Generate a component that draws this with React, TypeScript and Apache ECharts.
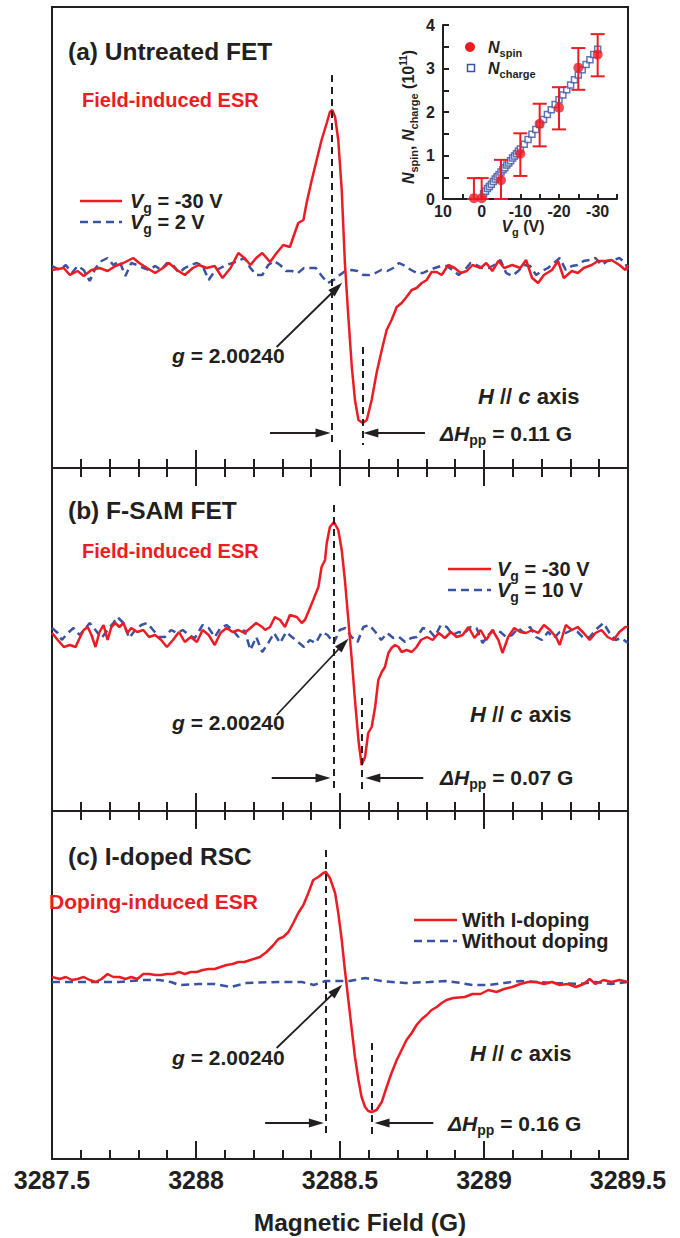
import React, { useEffect, useRef } from "react";
import * as echarts from "echarts";

const RED = "#ed1c24";
const BLUE = "#3953a4";
const INK = "#231f20";
const FONT = '"Liberation Sans", Arial, sans-serif';

const FIELD_MIN = 3287.5;
const FIELD_MAX = 3289.5;

// ---------- Panel (a): Untreated FET (signal, arbitrary units) ----------
const aRed: [number, number][] = [
  [3287.5, -2], [3287.541, 0], [3287.562, -7], [3287.589, -3], [3287.61, -8], [3287.637, -2], [3287.665, 0], [3287.693, -3],
  [3287.72, 2], [3287.748, 5], [3287.782, 10], [3287.803, 5], [3287.83, 0], [3287.858, -5], [3287.885, 0], [3287.906, 5],
  [3287.934, -2], [3287.961, -7], [3287.989, 0], [3288.01, 3], [3288.037, 0], [3288.065, 2], [3288.092, -10], [3288.12, 0],
  [3288.147, 15], [3288.168, 10], [3288.189, 3], [3288.209, 10], [3288.23, 15], [3288.257, 6], [3288.28, 15], [3288.303, 23],
  [3288.326, 21], [3288.338, 31], [3288.355, 45], [3288.373, 48], [3288.384, 65], [3288.402, 88], [3288.419, 108], [3288.436, 128],
  [3288.454, 145], [3288.465, 156], [3288.473, 158], [3288.483, 151], [3288.494, 128], [3288.506, 78], [3288.517, 5], [3288.529, -49],
  [3288.541, -99], [3288.552, -132], [3288.564, -152], [3288.579, -155], [3288.593, -152], [3288.61, -132], [3288.627, -105], [3288.645, -82],
  [3288.662, -62], [3288.679, -52], [3288.697, -39], [3288.714, -35], [3288.731, -29], [3288.749, -22], [3288.766, -20], [3288.784, -15],
  [3288.801, -12], [3288.818, -4], [3288.836, -4], [3288.853, -7], [3288.876, 3], [3288.898, 0], [3288.919, -5], [3288.94, -3],
  [3288.96, 3], [3288.988, 0], [3289.008, 5], [3289.029, -3], [3289.05, 7], [3289.07, 0], [3289.098, 3], [3289.126, 0],
  [3289.146, 8], [3289.167, -10], [3289.188, -15], [3289.208, -7], [3289.236, -2], [3289.257, 7], [3289.277, -10], [3289.305, -3],
  [3289.326, -5], [3289.346, 0], [3289.374, 3], [3289.395, 7], [3289.422, 7], [3289.443, 8], [3289.47, 3], [3289.491, -2], [3289.5, 3],
];
const aBlue: [number, number][] = [
  [3287.5, 2], [3287.527, -2], [3287.548, 3], [3287.569, -5], [3287.589, 2], [3287.61, -2], [3287.631, -13], [3287.651, 0],
  [3287.672, 7], [3287.693, 10], [3287.713, 3], [3287.734, 7], [3287.755, -8], [3287.775, 5], [3287.796, 3], [3287.817, 0],
  [3287.837, -2], [3287.858, 2], [3287.879, -2], [3287.899, 5], [3287.92, 3], [3287.941, -5], [3287.961, 0], [3287.982, 3],
  [3288.003, 5], [3288.023, 2], [3288.044, -12], [3288.065, -3], [3288.085, 0], [3288.106, 3], [3288.127, 5], [3288.147, 7],
  [3288.168, 10], [3288.189, 0], [3288.209, -7], [3288.23, -7], [3288.251, 3], [3288.271, 7], [3288.292, 3], [3288.313, -3],
  [3288.333, -3], [3288.354, -5], [3288.375, 0], [3288.395, 0], [3288.416, 0], [3288.437, -8], [3288.457, -15], [3288.478, -12],
  [3288.499, -7], [3288.519, -3], [3288.54, -2], [3288.561, -3], [3288.581, -7], [3288.602, -7], [3288.623, -5], [3288.643, -2],
  [3288.664, -3], [3288.685, 0], [3288.705, 5], [3288.726, 2], [3288.747, -2], [3288.767, -5], [3288.788, -5], [3288.809, -2],
  [3288.829, 0], [3288.85, 2], [3288.871, 2], [3288.891, -2], [3288.912, -7], [3288.933, -2], [3288.953, 5], [3288.974, 3],
  [3288.995, 0], [3289.015, 0], [3289.036, 3], [3289.057, 8], [3289.077, -5], [3289.098, -8], [3289.119, -3], [3289.139, 3],
  [3289.16, 2], [3289.181, -7], [3289.201, -3], [3289.222, 0], [3289.243, 5], [3289.263, 10], [3289.284, -2], [3289.305, 2],
  [3289.325, 3], [3289.346, 7], [3289.367, 8], [3289.387, 10], [3289.408, 3], [3289.429, 7], [3289.45, 8], [3289.47, 10],
  [3289.491, 5], [3289.5, -2],
];

// ---------- Panel (b): F-SAM FET ----------
const bRed: [number, number][] = [
  [3287.5, 2], [3287.52, -5], [3287.541, -12], [3287.562, -10], [3287.582, -12], [3287.596, -3], [3287.61, 5], [3287.624, 8],
  [3287.637, 0], [3287.651, -12], [3287.665, 3], [3287.679, 10], [3287.693, -5], [3287.706, 8], [3287.72, 12], [3287.734, 8],
  [3287.748, 12], [3287.762, 2], [3287.775, 7], [3287.796, 3], [3287.817, 5], [3287.837, -2], [3287.858, 0], [3287.879, -5],
  [3287.899, -12], [3287.92, -5], [3287.941, 3], [3287.961, -7], [3287.982, -2], [3288.003, -7], [3288.023, 5], [3288.044, 0],
  [3288.065, -10], [3288.085, 2], [3288.106, 7], [3288.127, 3], [3288.147, 5], [3288.168, 2], [3288.189, 7], [3288.209, 12],
  [3288.23, 8], [3288.24, 5], [3288.257, 8], [3288.274, 18], [3288.292, 15], [3288.309, 8], [3288.326, 20], [3288.35, 18],
  [3288.367, 12], [3288.378, 15], [3288.39, 23], [3288.407, 35], [3288.425, 48], [3288.436, 68], [3288.448, 75], [3288.454, 92],
  [3288.465, 108], [3288.479, 113], [3288.494, 105], [3288.506, 85], [3288.517, 55], [3288.529, 15], [3288.541, -25], [3288.552, -65],
  [3288.564, -105], [3288.575, -130], [3288.587, -122], [3288.598, -98], [3288.61, -92], [3288.622, -72], [3288.633, -45], [3288.645, -37],
  [3288.656, -32], [3288.668, -18], [3288.679, -13], [3288.691, -10], [3288.703, -12], [3288.714, -17], [3288.731, -15], [3288.749, -17],
  [3288.766, -12], [3288.781, -5], [3288.802, -2], [3288.822, -5], [3288.843, 2], [3288.864, -3], [3288.885, 3], [3288.905, -2],
  [3288.926, 0], [3288.946, 8], [3288.967, -3], [3288.988, 5], [3289.008, -5], [3289.029, 5], [3289.05, -5], [3289.064, -18],
  [3289.084, -2], [3289.105, 7], [3289.126, 3], [3289.146, 2], [3289.167, 5], [3289.188, 2], [3289.208, 10], [3289.229, 5],
  [3289.25, -2], [3289.263, -10], [3289.284, 10], [3289.305, 5], [3289.325, 8], [3289.346, 2], [3289.367, -5], [3289.387, 2],
  [3289.408, 5], [3289.429, -2], [3289.45, -5], [3289.47, 3], [3289.491, 8], [3289.5, 8],
];
const bBlue: [number, number][] = [
  [3287.5, 7], [3287.52, 2], [3287.534, -5], [3287.555, 2], [3287.575, 7], [3287.596, 0], [3287.617, 7], [3287.631, 12],
  [3287.651, 5], [3287.672, -3], [3287.693, 5], [3287.713, 12], [3287.727, 18], [3287.748, 12], [3287.768, -3], [3287.789, 5],
  [3287.81, 10], [3287.83, 12], [3287.851, 5], [3287.872, -2], [3287.892, -2], [3287.913, 5], [3287.934, 2], [3287.954, 5],
  [3287.975, 0], [3287.996, -3], [3288.023, 10], [3288.044, 7], [3288.065, -2], [3288.085, 7], [3288.106, 10], [3288.127, 5],
  [3288.147, -2], [3288.168, 5], [3288.189, -15], [3288.209, -2], [3288.23, -17], [3288.251, -8], [3288.271, 2], [3288.292, -8],
  [3288.313, 3], [3288.333, -2], [3288.354, -7], [3288.375, -12], [3288.395, -5], [3288.416, -8], [3288.437, 3], [3288.457, 0],
  [3288.478, -8], [3288.499, 5], [3288.519, 7], [3288.54, -2], [3288.561, -7], [3288.581, 8], [3288.602, 10], [3288.623, 3],
  [3288.643, -5], [3288.664, 2], [3288.685, -3], [3288.705, -2], [3288.726, -7], [3288.747, -3], [3288.767, -2], [3288.788, 7],
  [3288.809, 5], [3288.829, -2], [3288.85, 10], [3288.871, 8], [3288.891, 0], [3288.912, 3], [3288.933, 2], [3288.953, 8],
  [3288.974, 7], [3288.995, -8], [3289.015, 0], [3289.036, 5], [3289.057, 3], [3289.077, -2], [3289.098, 0], [3289.119, 7],
  [3289.139, 2], [3289.16, 8], [3289.181, -2], [3289.201, -5], [3289.222, 3], [3289.243, -3], [3289.263, 3], [3289.284, 2],
  [3289.305, 5], [3289.325, 3], [3289.346, -3], [3289.367, -2], [3289.387, 5], [3289.415, 12], [3289.436, 2], [3289.457, -5],
  [3289.477, -3], [3289.5, -8],
];

// ---------- Panel (c): I-doped RSC ----------
const cRed: [number, number][] = [
  [3287.5, 5], [3287.527, 3], [3287.548, 5], [3287.569, 2], [3287.589, 3], [3287.61, 5], [3287.631, 2], [3287.651, 0],
  [3287.672, 3], [3287.693, 8], [3287.713, 5], [3287.734, 5], [3287.755, 3], [3287.775, 5], [3287.796, 3], [3287.817, 8],
  [3287.837, 8], [3287.858, 7], [3287.879, 7], [3287.899, 8], [3287.92, 8], [3287.941, 10], [3287.961, 8], [3287.982, 10],
  [3288.003, 10], [3288.023, 12], [3288.044, 13], [3288.065, 13], [3288.085, 15], [3288.106, 17], [3288.127, 18], [3288.147, 20],
  [3288.168, 20], [3288.189, 22], [3288.222, 25], [3288.245, 30], [3288.269, 37], [3288.286, 43], [3288.303, 45], [3288.321, 50],
  [3288.338, 59], [3288.355, 69], [3288.373, 77], [3288.39, 89], [3288.407, 102], [3288.425, 105], [3288.442, 109], [3288.451, 110],
  [3288.465, 104], [3288.483, 89], [3288.494, 69], [3288.506, 42], [3288.517, 12], [3288.529, -18], [3288.541, -48], [3288.552, -75],
  [3288.564, -98], [3288.575, -115], [3288.587, -125], [3288.598, -129], [3288.61, -130], [3288.627, -128], [3288.645, -120], [3288.662, -105],
  [3288.679, -91], [3288.697, -78], [3288.714, -68], [3288.731, -58], [3288.749, -51], [3288.766, -43], [3288.784, -37], [3288.801, -33],
  [3288.818, -28], [3288.836, -25], [3288.853, -21], [3288.87, -18], [3288.893, -16], [3288.933, -15], [3288.96, -12], [3288.988, -12],
  [3289.015, -8], [3289.043, -10], [3289.07, -7], [3289.098, -5], [3289.126, -2], [3289.153, 0], [3289.181, 0], [3289.208, -2],
  [3289.236, 0], [3289.263, -3], [3289.291, -2], [3289.319, -5], [3289.346, -2], [3289.367, 3], [3289.387, -2], [3289.415, 2],
  [3289.443, 0], [3289.47, 2], [3289.5, 0],
];
const cBlue: [number, number][] = [
  [3287.5, 0], [3287.596, 0], [3287.734, 0], [3287.817, 2], [3287.872, 2], [3287.913, 0], [3287.941, -3], [3288.01, -2],
  [3288.065, -2], [3288.12, -5], [3288.175, -1], [3288.285, 0], [3288.368, 0], [3288.409, -3], [3288.45, 1], [3288.533, 1],
  [3288.588, 4], [3288.643, 1], [3288.726, -1], [3288.809, 0], [3288.864, 1], [3288.919, -1], [3288.96, -3], [3289.015, -3],
  [3289.07, -1], [3289.126, 1], [3289.181, 0], [3289.25, -1], [3289.332, -2], [3289.387, 0], [3289.443, -2], [3289.5, 0],
];

// ---------- Inset: N_spin and N_charge vs V_g ----------
const spinVg = [2, 0, -5, -10, -15, -20, -25, -30];
const spinN = [0.02, 0.02, 0.43, 1.04, 1.73, 2.1, 3.02, 3.32];
const spinLo = [0, 0, 0, 0.53, 1.21, 1.6, 2.51, 2.82];
const spinHi = [0.48, 0.48, 0.9, 1.51, 2.19, 2.57, 3.47, 3.79];
const chargeVg = [
  -0.5, -1, -1.5, -2, -2.5, -3, -3.5, -4, -4.5, -5, -5.5, -6, -6.5, -7, -7.5, -8, -8.5, -9, -9.5, -10,
  -11, -12, -13, -14, -15, -16, -17, -18, -19, -20, -21, -22, -23, -24, -25, -26, -27, -28, -29, -30,
];
const chargeN = [
  0.12, 0.18, 0.24, 0.29, 0.34, 0.4, 0.46, 0.51, 0.56, 0.62, 0.67, 0.72, 0.78, 0.83, 0.88, 0.94, 0.99, 1.04, 1.1, 1.15,
  1.26, 1.37, 1.49, 1.6, 1.71, 1.83, 1.94, 2.05, 2.17, 2.28, 2.39, 2.51, 2.62, 2.74, 2.85, 2.97, 3.09, 3.2, 3.32, 3.44,
];

// ---------- annotation anchors (field, signal) ----------
const PANEL_MARKS = [
  { dash1: [3288.472, 193, -177], dash2: [3288.58, -79, -177], arrowY: -165, arrL: [3288.257, 3288.441], arrR: [3288.795, 3288.607], diag: [3288.28, -79, 3288.489, -20] },
  { dash1: [3288.479, 130, -155], dash2: [3288.575, -63, -155], arrowY: -143, arrL: [3288.263, 3288.441], arrR: [3288.789, 3288.614], diag: [3288.28, -80, 3288.512, -9] },
  { dash1: [3288.451, 132, -153], dash2: [3288.61, -61, -153], arrowY: -141, arrL: [3288.24, 3288.418], arrR: [3288.824, 3288.646], diag: [3288.28, -66, 3288.489, -8] },
];

// layout (pixels)
const PANELS = [
  { top: 7, bottom: 468, base: 268 },
  { top: 468, bottom: 811, base: 635 },
  { top: 811, bottom: 1159, base: 982 },
];

let _ctx: CanvasRenderingContext2D | null = null;
function measure(t: string, size: number, bold: boolean, italic: boolean) {
  if (!_ctx) _ctx = document.createElement("canvas").getContext("2d");
  if (!_ctx) return t.length * size * 0.55;
  _ctx.font = `${italic ? "italic " : ""}${bold ? "bold " : ""}${size}px ${FONT}`;
  return _ctx.measureText(t).width;
}

type Part = { t: string; s?: number; b?: boolean; i?: boolean; d?: number; c?: string };
function rich(x: number, y: number, parts: Part[], o: { size: number; color?: string; align?: string; rotation?: number }) {
  const ps = parts.map((p) => ({ s: o.size, b: true, i: false, d: 0, ...p }));
  const widths = ps.map((p) => measure(p.t, p.s, p.b, p.i));
  const total = widths.reduce((a, b) => a + b, 0);
  let cx = o.align === "center" ? -total / 2 : o.align === "right" ? -total : 0;
  const children = ps.map((p, k) => {
    const el = {
      type: "text",
      x: cx,
      y: 0.35 * o.size + p.d - 0.35 * p.s,
      silent: true,
      style: {
        text: p.t,
        fill: p.c || o.color || INK,
        fontSize: p.s,
        fontWeight: p.b ? "bold" : "normal",
        fontStyle: p.i ? "italic" : "normal",
        fontFamily: FONT,
        align: "left",
        verticalAlign: "middle",
      },
    };
    cx += widths[k];
    return el;
  });
  return { type: "group", x, y, rotation: o.rotation || 0, children };
}

function fieldAxis(gridIndex: number, position: string, withLabels: boolean) {
  return {
    type: "value",
    gridIndex,
    position,
    min: FIELD_MIN,
    max: FIELD_MAX,
    interval: 0.5,
    axisLine: { show: true, onZero: false, lineStyle: { color: INK, width: 2 } },
    axisTick: { show: true, inside: true, length: 18, lineStyle: { color: INK, width: 2 } },
    minorTick: { show: true, splitNumber: 5, length: 9, lineStyle: { color: INK, width: 2 } },
    splitLine: { show: false },
    minorSplitLine: { show: false },
    axisLabel: withLabels
      ? {
          show: true,
          margin: 8,
          fontSize: 25,
          fontWeight: "bold",
          fontFamily: FONT,
          color: INK,
          showMinLabel: true,
          showMaxLabel: true,
          formatter: (v: number) => String(Number(v.toFixed(1))),
        }
      : { show: false },
  };
}

function marksFor(i: number) {
  const m = PANEL_MARKS[i];
  const dash = { color: INK, width: 2, type: [7, 5] };
  const solid = { color: INK, width: 1.8, type: "solid" };
  return {
    silent: true,
    animation: false,
    label: { show: false },
    symbolSize: [9, 15],
    data: [
      [{ coord: [m.dash1[0], m.dash1[1]], symbol: "none", lineStyle: dash }, { coord: [m.dash1[0], m.dash1[2]], symbol: "none" }],
      [{ coord: [m.dash2[0], m.dash2[1]], symbol: "none", lineStyle: dash }, { coord: [m.dash2[0], m.dash2[2]], symbol: "none" }],
      [{ coord: [m.arrL[0], m.arrowY], symbol: "none", lineStyle: solid }, { coord: [m.arrL[1], m.arrowY], symbol: "triangle" }],
      [{ coord: [m.arrR[0], m.arrowY], symbol: "none", lineStyle: solid }, { coord: [m.arrR[1], m.arrowY], symbol: "triangle" }],
      [{ coord: [m.diag[0], m.diag[1]], symbol: "none", lineStyle: solid }, { coord: [m.diag[2], m.diag[3]], symbol: "triangle" }],
    ],
    itemStyle: { color: INK },
  };
}

export default function App() {
  const ref = useRef<HTMLDivElement>(null);
  useEffect(() => {
    if (!ref.current) return;
    const chart = echarts.init(ref.current, undefined, { renderer: "svg" });

    const grids: any[] = PANELS.map((p) => ({
      left: 52,
      width: 576,
      top: p.top,
      height: p.bottom - p.top,
      show: true,
      borderColor: INK,
      borderWidth: 2,
      backgroundColor: "transparent",
    }));
    grids.push({ left: 443, width: 174, top: 25, height: 174, show: false });

    const xAxes: any[] = [
      fieldAxis(0, "bottom", false),
      fieldAxis(1, "top", false),
      fieldAxis(1, "bottom", false),
      fieldAxis(2, "top", false),
      fieldAxis(2, "bottom", true),
      {
        type: "value",
        gridIndex: 3,
        min: -35,
        max: 10,
        interval: 5,
        inverse: true,
        axisLine: { show: true, onZero: false, lineStyle: { color: INK, width: 2 } },
        axisTick: { show: true, inside: true, length: 5, lineStyle: { color: INK, width: 2 } },
        splitLine: { show: false },
        axisLabel: {
          margin: 4,
          fontSize: 16,
          fontWeight: "bold",
          fontFamily: FONT,
          color: INK,
          formatter: (v: number) => (v % 10 === 0 ? String(v) : ""),
        },
      },
    ];
    const yAxes: any[] = PANELS.map((p, i) => ({
      type: "value",
      gridIndex: i,
      min: -(p.bottom - p.base),
      max: p.base - p.top,
      show: false,
    }));
    yAxes.push({
      type: "value",
      gridIndex: 3,
      min: 0,
      max: 4,
      interval: 1,
      axisLine: { show: true, onZero: false, lineStyle: { color: INK, width: 2 } },
      axisTick: { show: true, inside: true, length: 6, lineStyle: { color: INK, width: 2 } },
      minorTick: { show: true, splitNumber: 2, length: 6, lineStyle: { color: INK, width: 2 } },
      splitLine: { show: false },
      axisLabel: { margin: 8, fontSize: 16, fontWeight: "bold", fontFamily: FONT, color: INK },
    });

    const mainXIdx = [0, 2, 4];
    const redSets = [aRed, bRed, cRed];
    const blueSets = [aBlue, bBlue, cBlue];
    const series: any[] = [];
    for (let i = 0; i < 3; i++) {
      series.push({
        type: "line",
        xAxisIndex: mainXIdx[i],
        yAxisIndex: i,
        data: blueSets[i],
        showSymbol: false,
        symbol: "none",
        lineStyle: { color: BLUE, width: 2.5, type: [8, 5] },
        silent: true,
        z: 2,
      });
      series.push({
        type: "line",
        xAxisIndex: mainXIdx[i],
        yAxisIndex: i,
        data: redSets[i],
        showSymbol: false,
        symbol: "none",
        lineStyle: { color: RED, width: 2.5 },
        silent: true,
        z: 3,
        markLine: marksFor(i),
      });
    }
    series.push({
      type: "scatter",
      xAxisIndex: 5,
      yAxisIndex: 3,
      data: chargeVg.map((v, k) => [v, chargeN[k]]),
      symbol: "rect",
      symbolSize: 6,
      itemStyle: { color: "#ffffff", borderColor: BLUE, borderWidth: 1.5 },
      silent: true,
      z: 4,
    });
    series.push({
      type: "custom",
      xAxisIndex: 5,
      yAxisIndex: 3,
      data: spinVg.map((v, k) => [v, spinLo[k], spinHi[k]]),
      encode: { x: 0, y: [1, 2] },
      silent: true,
      z: 5,
      renderItem: (_p: any, api: any) => {
        const lo = api.coord([api.value(0), api.value(1)]);
        const hi = api.coord([api.value(0), api.value(2)]);
        const w = 7;
        const st = { stroke: RED, lineWidth: 2 };
        return {
          type: "group",
          children: [
            { type: "line", shape: { x1: lo[0], y1: lo[1], x2: hi[0], y2: hi[1] }, style: st },
            { type: "line", shape: { x1: hi[0] - w, y1: hi[1], x2: hi[0] + w, y2: hi[1] }, style: st },
            { type: "line", shape: { x1: lo[0] - w, y1: lo[1], x2: lo[0] + w, y2: lo[1] }, style: st },
          ],
        };
      },
    });
    series.push({
      type: "scatter",
      xAxisIndex: 5,
      yAxisIndex: 3,
      data: spinVg.map((v, k) => [v, spinN[k]]),
      symbol: "circle",
      symbolSize: 10,
      itemStyle: { color: RED },
      silent: true,
      z: 6,
    });

    const sub = (t: string, s = 14, d = 5): Part => ({ t, s, d });
    const hc: Part[] = [{ t: "H", i: true }, { t: " // " }, { t: "c", i: true }, { t: " axis" }];
    const graphics: any[] = [
      // panel titles
      rich(68, 51, [{ t: "(a) Untreated FET" }], { size: 24.5 }),
      rich(68, 510, [{ t: "(b) F-SAM FET" }], { size: 24.5 }),
      rich(68, 856, [{ t: "(c) I-doped RSC" }], { size: 24.5 }),
      rich(82, 100, [{ t: "Field-induced ESR" }], { size: 20, color: RED }),
      rich(82, 551, [{ t: "Field-induced ESR" }], { size: 20, color: RED }),
      rich(49, 901, [{ t: "Doping-induced ESR" }], { size: 21, color: RED }),
      // legends
      { type: "line", silent: true, shape: { x1: 80, y1: 201, x2: 122, y2: 201 }, style: { stroke: RED, lineWidth: 2.5 } },
      { type: "line", silent: true, shape: { x1: 80, y1: 222, x2: 122, y2: 222 }, style: { stroke: BLUE, lineWidth: 2.5, lineDash: [8, 5] } },
      rich(130, 201, [{ t: "V", i: true }, sub("g"), { t: " = -30 V" }], { size: 20 }),
      rich(130, 222, [{ t: "V", i: true }, sub("g"), { t: " = 2 V" }], { size: 20 }),
      { type: "line", silent: true, shape: { x1: 448, y1: 569, x2: 491, y2: 569 }, style: { stroke: RED, lineWidth: 2.5 } },
      { type: "line", silent: true, shape: { x1: 448, y1: 590, x2: 491, y2: 590 }, style: { stroke: BLUE, lineWidth: 2.5, lineDash: [8, 5] } },
      rich(497, 569, [{ t: "V", i: true }, sub("g"), { t: " = -30 V" }], { size: 20 }),
      rich(497, 590, [{ t: "V", i: true }, sub("g"), { t: " = 10 V" }], { size: 20 }),
      { type: "line", silent: true, shape: { x1: 414, y1: 920, x2: 457, y2: 920 }, style: { stroke: RED, lineWidth: 2.5 } },
      { type: "line", silent: true, shape: { x1: 414, y1: 941, x2: 457, y2: 941 }, style: { stroke: BLUE, lineWidth: 2.5, lineDash: [8, 5] } },
      rich(462, 920, [{ t: "With I-doping" }], { size: 20 }),
      rich(462, 941, [{ t: "Without doping" }], { size: 20 }),
      // g-values
      rich(172, 355, [{ t: "g", i: true }, { t: " = 2.00240" }], { size: 21 }),
      rich(172, 722, [{ t: "g", i: true }, { t: " = 2.00240" }], { size: 21 }),
      rich(172, 1057, [{ t: "g", i: true }, { t: " = 2.00240" }], { size: 21 }),
      // H // c axis
      rich(478, 396, hc, { size: 22 }),
      rich(470, 714, hc, { size: 22 }),
      rich(470, 1053, hc, { size: 22 }),
      // line widths
      rich(440, 433, [{ t: "ΔH", i: true }, sub("pp"), { t: " = 0.11 G" }], { size: 21 }),
      rich(440, 777, [{ t: "ΔH", i: true }, sub("pp"), { t: " = 0.07 G" }], { size: 21 }),
      rich(448, 1123, [{ t: "ΔH", i: true }, sub("pp"), { t: " = 0.16 G" }], { size: 21 }),
      // x-axis title
      rich(360, 1222, [{ t: "Magnetic Field (G)" }], { size: 24.5, align: "center" }),
      // inset legend
      { type: "circle", silent: true, shape: { cx: 470, cy: 47, r: 5 }, style: { fill: RED } },
      { type: "rect", silent: true, shape: { x: 467.5, y: 64.5, width: 7, height: 7 }, style: { fill: "#ffffff", stroke: BLUE, lineWidth: 1.5 } },
      rich(488, 47, [{ t: "N", i: true }, sub("spin", 11, 4)], { size: 16 }),
      rich(488, 68, [{ t: "N", i: true }, sub("charge", 11, 4)], { size: 16 }),
      // inset axis names
      rich(523, 226, [{ t: "V", i: true }, sub("g", 11, 4), { t: " (V)" }], { size: 16, align: "center" }),
      rich(
        408,
        117,
        [{ t: "N", i: true }, sub("spin", 11, 4), { t: ", " }, { t: "N", i: true }, sub("charge", 11, 4), { t: " (10" }, { t: "11", s: 10, d: -7 }, { t: ")" }],
        { size: 16, align: "center", rotation: Math.PI / 2 }
      ),
    ];

    chart.setOption({
      animation: false,
      backgroundColor: "#ffffff",
      textStyle: { fontFamily: FONT },
      grid: grids,
      xAxis: xAxes,
      yAxis: yAxes,
      series,
      graphic: { elements: graphics },
    });

    return () => chart.dispose();
  }, []);

  return <div ref={ref} style={{ position: "fixed", left: 0, top: 0, width: 680, height: 1238 }} />;
}
